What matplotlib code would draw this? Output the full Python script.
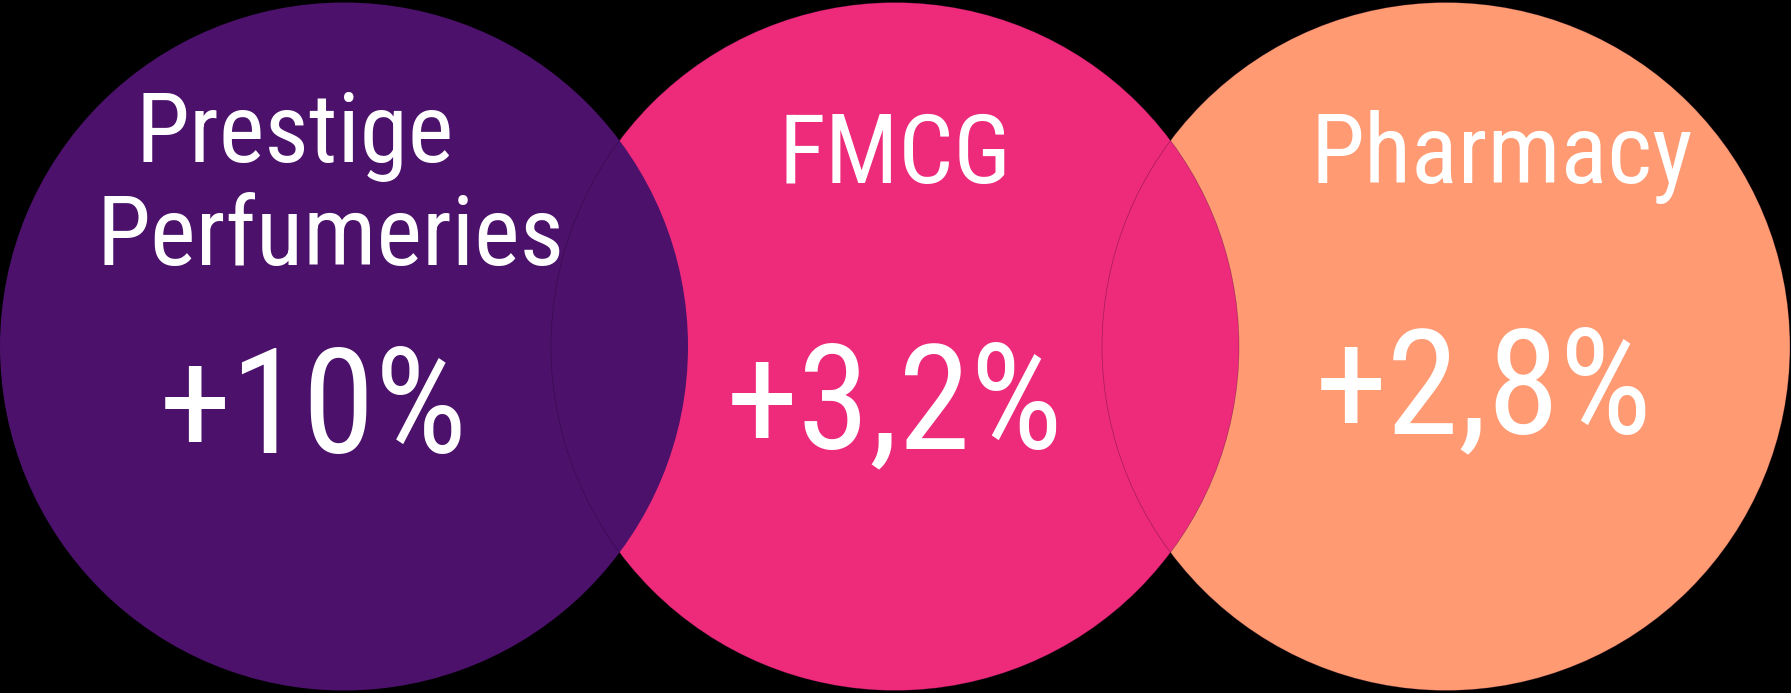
import matplotlib
matplotlib.use("Agg")
import matplotlib.pyplot as plt
from matplotlib.patches import Circle

# ---- data ----
categories = ["Prestige Perfumeries", "FMCG", "Pharmacy"]
label_lines = [["Prestige", "Perfumeries"], ["FMCG"], ["Pharmacy"]]
growth = ["+10%", "+3,2%", "+2,8%"]
colors = ["#4B116B", "#EE2A7B", "#FF9A72"]

# ---- layout (pixels) ----
W, H = 1791, 693
radius = 344
cx = [344, 895, 1446]
cy = 346.5
label_x = [[295, 331], [895.5], [1502]]
label_base = [[162, 265], [183], [183]]
value_x = [313, 895, 1484]
value_base = [453, 448, 433]

fams = ["Roboto Condensed", "Liberation Sans Narrow", "Roboto", "DejaVu Sans"]

fig = plt.figure(figsize=(W / 100, H / 100), dpi=100)
fig.patch.set_facecolor("black")
ax = fig.add_axes([0, 0, 1, 1])
ax.set_facecolor("black")
ax.set_xlim(0, W)
ax.set_ylim(H, 0)
ax.axis("off")

n = len(categories)
for i in range(n):
    z = n - i
    ax.add_patch(Circle((cx[i], cy), radius, facecolor=colors[i],
                        edgecolor="none", zorder=z))
    if i > 0:
        # faint seam of the underlying circle visible through the overlap
        ax.add_patch(Circle((cx[i], cy), radius, facecolor="none",
                            edgecolor=(0.1, 0.0, 0.15, 0.35), linewidth=0.5,
                            zorder=5))
    for line, lx, lb in zip(label_lines[i], label_x[i], label_base[i]):
        ax.text(lx, lb, line, color="white", fontsize=70, family=fams,
                ha="center", va="baseline", zorder=10)
    ax.text(value_x[i], value_base[i], growth[i], color="white", fontsize=105,
            family=fams, ha="center", va="baseline", zorder=10)

fig.savefig("out.png", dpi=100, facecolor="black")
